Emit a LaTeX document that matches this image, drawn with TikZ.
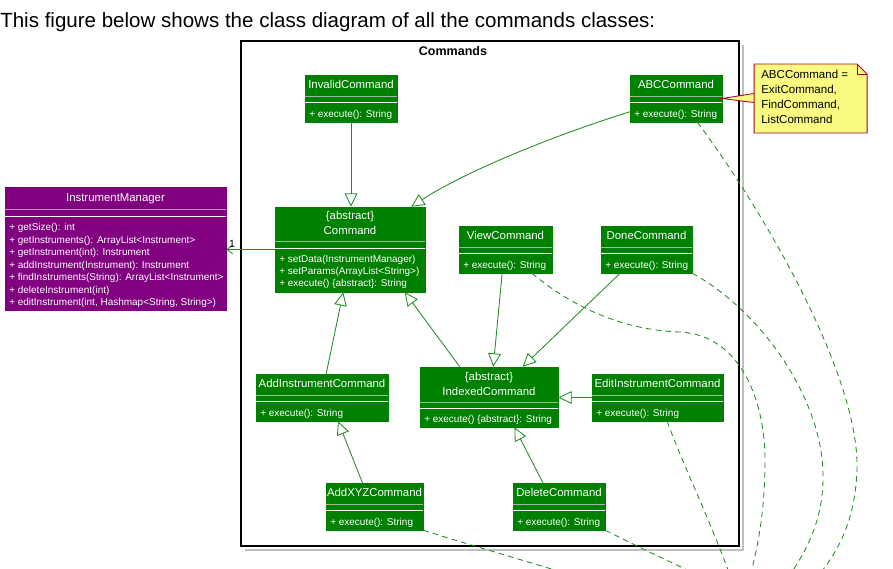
\documentclass[tikz,border=0pt]{standalone}
\usepackage{fontspec}
\setmainfont{Liberation Sans}
\usetikzlibrary{arrows.meta,calc,fit}

\definecolor{classgreen}{RGB}{0,128,0}
\definecolor{linegreen}{RGB}{34,139,34}
\definecolor{managerpurple}{RGB}{128,0,128}
\definecolor{noteyellow}{RGB}{251,251,130}
\definecolor{notered}{RGB}{168,0,54}

\tikzset{
    classbox/.style={fill=classgreen, draw=classgreen, inner sep=0pt},
    managerbox/.style={fill=managerpurple, draw=managerpurple, inner sep=0pt},
    classtitle/.style={text=white, inner sep=0pt, font=\fontsize{8.1pt}{9pt}\selectfont},
    method/.style={text=white, anchor=west, inner sep=0pt, font=\fontsize{7.1pt}{8.5pt}\selectfont},
    sepline/.style={draw=white, opacity=0.55, line width=0.6pt},
    sepline2/.style={draw=white, line width=0.7pt},
    gen/.style={draw=linegreen, line width=0.6pt, -{Triangle[open, length=9.5pt, width=9pt]}},
    assoc/.style={draw=linegreen, line width=0.6pt, -{Straight Barb[length=4pt, width=6pt]}},
    dep/.style={draw=linegreen, line width=0.6pt, dash pattern=on 4pt off 3pt}
}

\begin{document}
\begin{tikzpicture}[x=0.025cm, y=-0.025cm]
    \useasboundingbox (0,0) rectangle (893,568);
    \fill[white] (0,0) rectangle (893,568);
    \clip (0,0) rectangle (893,568);

    \node[anchor=base west, inner sep=0pt, font=\fontsize{14.6pt}{17pt}\selectfont] (caption) at (0,27)
        {This figure below shows the class diagram of all the commands classes:};

    \draw[gray!50, line width=1pt] (743,45) -- (743,550) -- (245,550);
    \node[draw=black, fill=white, line width=1pt, inner sep=0pt, fit={(241,41) (739,546)}] (pkg) {};
    \node[font=\bfseries\fontsize{8.9pt}{10pt}\selectfont, inner sep=0pt] (pkgtitle) at (453,51.5) {Commands};

    \foreach \nm/\xa/\ya/\xb/\ttl in {invalid/305/75/397/InvalidCommand, abc/630/75/722/ABCCommand,
        view/459/226/552/ViewCommand, done/601/226/692/DoneCommand,
        addinst/256/374/388/AddInstrumentCommand, edit/592/374/723/EditInstrumentCommand,
        addxyz/326/483/423/AddXYZCommand, delete/513/483/605/DeleteCommand}{
        \node[classbox, fit={(\xa,\ya) (\xb,\ya+47)}] (\nm) {};
        \node[classtitle] at ($(\nm.north)+(0,9.5)$) {\ttl};
        \draw[sepline] (\xa,\ya+21) -- (\xb,\ya+21);
        \draw[sepline2] (\xa,\ya+27) -- (\xb,\ya+27);
        \node[method] at (\xa+4,\ya+39.5) {+ execute(): String};
    }

    \node[classbox, fit={(275,207) (425,292)}] (cmd) {};
    \node[classtitle] at (350,216.5) {\{abstract\}};
    \node[classtitle] at (350,230.5) {Command};
    \draw[sepline] (275,241) -- (425,241);
    \draw[sepline2] (275,248) -- (425,248);
    \foreach \m [count=\i from 0] in {{+ setData(InstrumentManager)}, {+ setParams(ArrayList<String>)},
        {+ execute() \{abstract\}: String}}
        \node[method] at (279,260+12*\i) {\m};

    \node[classbox, fit={(420,367) (558,427)}] (indexed) {};
    \node[classtitle] at (489,377.5) {\{abstract\}};
    \node[classtitle] at (489,391.5) {IndexedCommand};
    \draw[sepline] (420,402) -- (558,402);
    \draw[sepline2] (420,408) -- (558,408);
    \node[method] at (424,420) {+ execute() \{abstract\}: String};

    \node[managerbox, fit={(5,187) (226,310)}] (manager) {};
    \node[classtitle] at (115.5,198.5) {InstrumentManager};
    \draw[sepline] (5,209) -- (226,209);
    \draw[sepline2] (5,216) -- (226,216);
    \foreach \m [count=\i from 0] in {{+ getSize(): int}, {+ getInstruments(): ArrayList<Instrument>},
        {+ getInstrument(int): Instrument}, {+ addInstrument(Instrument): Instrument},
        {+ findInstruments(String): ArrayList<Instrument>}, {+ deleteInstrument(int)},
        {+ editInstrument(int, Hashmap<String, String>)}}
        \node[method] at (9,228+12.5*\i) {\m};

    \node[inner sep=0pt, fit={(754,64) (867,133)}] (note) {};
    \filldraw[fill=noteyellow, draw=notered, line width=0.6pt]
        ($(note.west)+(0,-5)$) -- (abc.east) -- ($(note.west)+(0,4)$);
    \filldraw[fill=noteyellow, draw=notered, line width=0.7pt]
        (754,64) -- (857,64) -- (867,74) -- (867,133) -- (754,133) -- cycle;
    \draw[notered, line width=0.6pt] (857,64) -- (857,74) -- (867,74);
    \node[anchor=north west, align=left, inner sep=0pt, font=\fontsize{8.2pt}{10.7pt}\selectfont] (notetext) at (761,70)
        {ABCCommand =\\ExitCommand,\\FindCommand,\\ListCommand};

    \draw[gen] (invalid.south) -- (invalid.south |- cmd.north);
    \draw[gen] (abc.196) .. controls (540,140) and (460,175) .. (cmd.35);
    \draw[gen] (addinst.80) -- (cmd.-99);
    \draw[gen] (indexed.134) -- (cmd.-38);
    \draw[gen] (view.-98) -- (indexed.82);
    \draw[gen] (done.-138) -- (indexed.42);
    \draw[gen] (edit.west) -- (edit.west -| indexed.east);
    \draw[gen] (addxyz.117) -- (addinst.-56);
    \draw[gen] (delete.124) -- (indexed.-50);
    \draw[assoc] (cmd.west) -- (cmd.west -| manager.east)
        node[pos=0.88, above, inner sep=1pt, font=\fontsize{7.5pt}{9pt}\selectfont] {1};

    \coordinate (abcend) at (805,590);
    \coordinate (doneend) at (780,590);
    \coordinate (viewend) at (746,590);
    \coordinate (editend) at (735,590);
    \coordinate (deleteend) at (720,585);
    \coordinate (addxyzend) at (620,590);

    \draw[dep] (abc.-48) .. controls (770,220) and (860,380) .. (857,470)
        .. controls (855,525) and (835,560) .. (abcend);
    \draw[dep] (done.south east) .. controls (760,310) and (825,400) .. (823,480)
        .. controls (822,530) and (800,560) .. (doneend);
    \draw[dep] (view.-42) .. controls (570,305) and (620,330) .. (680,332)
        .. controls (740,335) and (765,400) .. (765,460)
        .. controls (765,520) and (755,560) .. (viewend);
    \draw[dep] (edit.-68) .. controls (685,470) and (715,530) .. (editend);
    \draw[dep] (delete.south east) .. controls (635,545) and (665,560) .. (deleteend);
    \draw[dep] (addxyz.south east) .. controls (470,545) and (540,565) .. (addxyzend);
\end{tikzpicture}
\end{document}
